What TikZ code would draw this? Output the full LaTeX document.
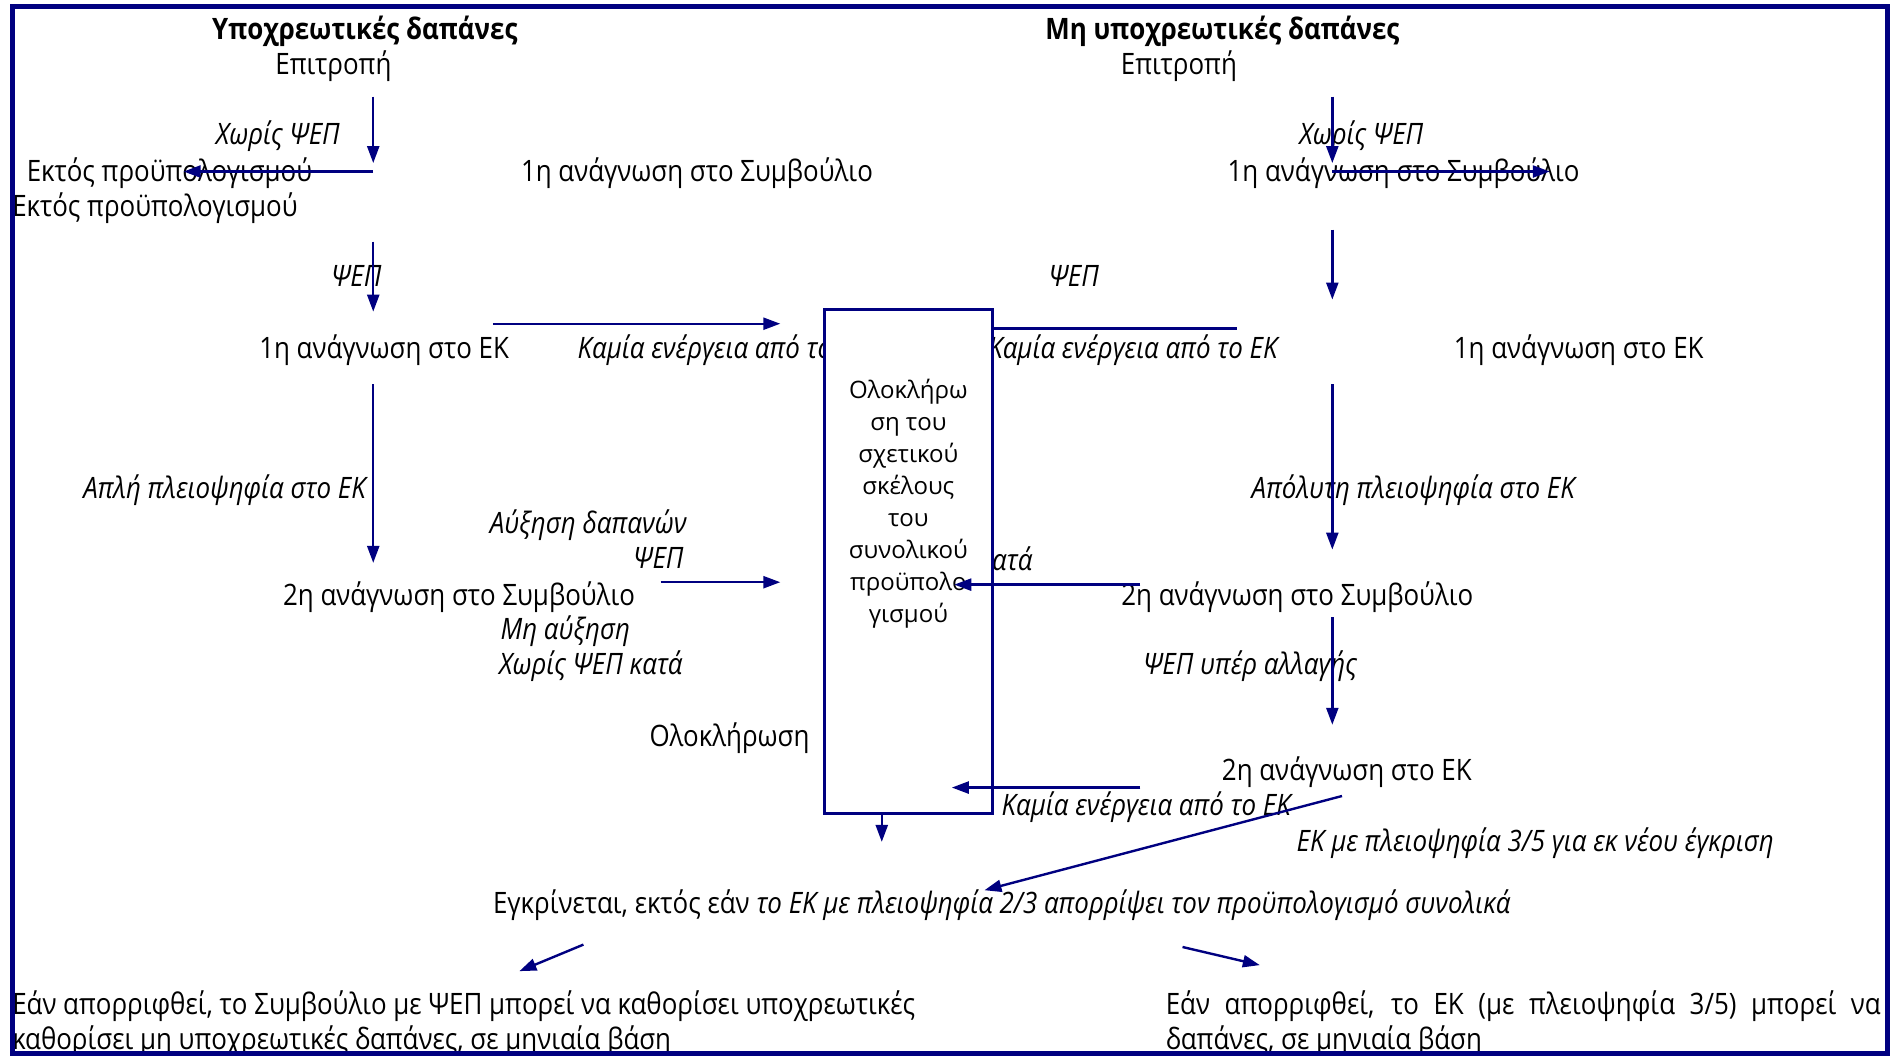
\documentclass[tikz,border=0pt]{standalone}
\usepackage{fontspec}
\setmainfont{Open Sans}[FakeStretch=0.878]
\newfontfamily\boxfont{Open Sans}
\usetikzlibrary{arrows.meta}
\definecolor{navyline}{RGB}{0,0,128}

\begin{document}
\begin{tikzpicture}[x=1.208pt, y=-1.208pt,
    lbl/.style={inner sep=0pt, text height=1.5ex, text depth=0.5ex, yshift=-7pt, font=\fontsize{29.5}{35}\selectfont},
    ital/.style={lbl, font=\fontsize{29.5}{35}\selectfont\itshape},
    head/.style={lbl, font=\fontsize{29.5}{35}\selectfont\bfseries},
    arr/.style={-{Triangle[length=17pt,width=12pt]}, navyline, line width=2.4pt}]
  \useasboundingbox (0,0) rectangle (1568,874);

  \node[head] (headL) at (302,25) {Υποχρεωτικές δαπάνες};
  \node[lbl] (comL) at (276,54) {Επιτροπή};
  \node[ital] (noL) at (230,112) {Χωρίς ΨΕΠ};
  \node[lbl, anchor=west] (outA) at (22,142) {Εκτός προϋπολογισμού};
  \node[lbl, anchor=west] (outB) at (10,171) {Εκτός προϋπολογισμού};
  \node[lbl] (council1L) at (577,142) {1η ανάγνωση στο Συμβούλιο};
  \node[ital] (yesL) at (295,229) {ΨΕΠ};
  \node[lbl] (ep1L) at (318,289) {1η ανάγνωση στο ΕΚ};
  \node[ital, anchor=west] (noactA) at (478,289) {Καμία ενέργεια από το ΕΚ};
  \node[ital, anchor=east] (simple) at (303,405) {Απλή πλειοψηφία στο ΕΚ};
  \node[ital] (rise) at (487,434) {Αύξηση δαπανών};
  \node[ital, anchor=east] (yesB) at (566,463) {ΨΕΠ};
  \node[lbl] (council2L) at (380,493) {2η ανάγνωση στο Συμβούλιο};
  \node[ital] (norise) at (468,521) {Μη αύξηση};
  \node[ital, anchor=west] (noagainstA) at (413,550) {Χωρίς ΨΕΠ κατά};
  \node[ital, anchor=east] (noagainstB) at (855,464) {Χωρίς ΨΕΠ κατά};
  \node[lbl] (endL) at (604,610) {Ολοκλήρωση};

  \node[head] (headR) at (1012,25) {Μη υποχρεωτικές δαπάνες};
  \node[lbl] (comR) at (976,54) {Επιτροπή};
  \node[ital] (noR) at (1127,112) {Χωρίς ΨΕΠ};
  \node[lbl] (council1R) at (1162,142) {1η ανάγνωση στο Συμβούλιο};
  \node[ital] (yesR) at (889,229) {ΨΕΠ};
  \node[ital, anchor=west] (noactB) at (818,289) {Καμία ενέργεια από το ΕΚ};
  \node[lbl] (ep1R) at (1307,289) {1η ανάγνωση στο ΕΚ};
  \node[ital] (absolute) at (1170,405) {Απόλυτη πλειοψηφία στο ΕΚ};
  \node[lbl] (council2R) at (1074,493) {2η ανάγνωση στο Συμβούλιο};
  \node[ital] (change) at (1035,550) {ΨΕΠ υπέρ αλλαγής};
  \node[lbl] (ep2R) at (1115,638) {2η ανάγνωση στο ΕΚ};
  \node[ital, anchor=west] (noactC) at (829,667) {Καμία ενέργεια από το ΕΚ};
  \node[ital] (again) at (1271,697) {ΕΚ με πλειοψηφία 3/5 για εκ νέου έγκριση};

  \node[lbl, anchor=west] (approve) at (408,748) {Εγκρίνεται, εκτός εάν \textit{το ΕΚ με πλειοψηφία 2/3 απορρίψει τον προϋπολογισμό συνολικά}};
  \node[lbl, anchor=west] (rejLa) at (10,832) {Εάν απορριφθεί, το Συμβούλιο με ΨΕΠ μπορεί να καθορίσει υποχρεωτικές};
  \node[lbl, anchor=west] (rejLb) at (10,861) {καθορίσει μη υποχρεωτικές δαπάνες, σε μηνιαία βάση};
  \node[lbl, anchor=west] (rejRa) at (965,832) {\makebox[715pt][s]{Εάν απορριφθεί, το ΕΚ (με πλειοψηφία 3/5) μπορεί να}};
  \node[lbl, anchor=west] (rejRb) at (965,861) {δαπάνες, σε μηνιαία βάση};

  \node[draw=navyline, fill=white, line width=3pt, minimum width=168pt, minimum height=504pt] (whole) at (752.5,464.5) {};
  \node[font=\boxfont\fontsize{24}{32}\selectfont, align=center, anchor=north] (wholetext) at (752,311) {Ολοκλήρω\\ση του\\σχετικού\\σκέλους\\του\\συνολικού\\προϋπολο\\γισμού};

  \foreach \n/\sx/\sy/\ex/\ey in {a1/309/80/309/135, a2/309/142/152/142, a3/309/200/309/258,
      a4/408/268/646/268, a5/309/318/309/466, a6/547/482/646/482, a7/730/673/730/697,
      b1/1103/80/1103/135, b2/1103/142/1283/142, b3/1103/190/1103/248, b5/1103/318/1103/455,
      b6/944/484/790/484, b7/1103/511/1103/600, b8/944/652/788/652, b9/1111/659/815/737,
      c1/483/782/430/804, c2/979/784/1043/799} {
    \coordinate (\n-s) at (\sx,\sy);
    \coordinate (\n-e) at (\ex,\ey);
    \draw[arr] (\n-s) -- (\n-e);
  }
  \coordinate (b4-s) at (1024,272);
  \draw[navyline, line width=2.4pt] (b4-s) -- (whole.east |- b4-s);

  \draw[navyline, line width=5pt] (10,5) rectangle (1563,872);
\end{tikzpicture}
\end{document}
